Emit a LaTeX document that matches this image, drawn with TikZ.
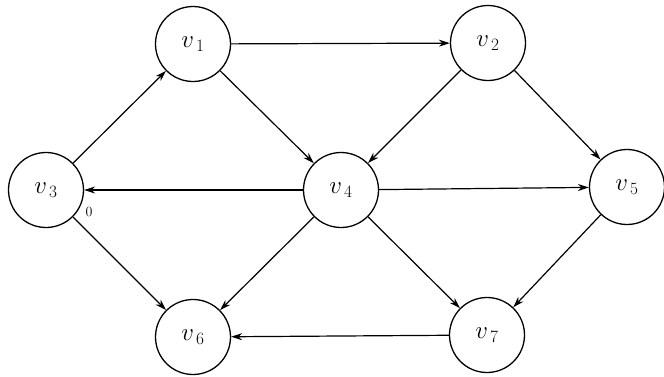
\documentclass[tikz,border=0pt]{standalone}
\usetikzlibrary{arrows.meta}
\begin{document}
\begin{tikzpicture}[x=1pt,y=-1pt,
  vert/.style={circle,draw,line width=1.3pt,minimum size=75pt,inner sep=0pt,font=\fontsize{24}{28}\selectfont},
  edge/.style={line width=1.2pt,-{Stealth[length=11pt,width=7pt]}},
  lbl/.style={font=\fontsize{14}{16}\selectfont,inner sep=0pt}]
\useasboundingbox (0,0) rectangle (664,376);
\node[vert] (v1) at (193,44) {$v_{\,1}$};
\node[vert] (v2) at (488,43) {$v_{\,2}$};
\node[vert] (v3) at (46,190) {$v_{\,3}$};
\node[vert] (v4) at (341,190) {$v_{\,4}$};
\node[vert] (v5) at (627,187) {$v_{\,5}$};
\node[vert] (v6) at (193,337) {$v_{\,6}$};
\node[vert] (v7) at (487,335) {$v_{\,7}$};
\node[lbl] (z) at (89,212) {0};
\draw[edge] (v3) -- (v1);
\draw[edge] (v1) -- (v2);
\draw[edge] (v1) -- (v4);
\draw[edge] (v2) -- (v4);
\draw[edge] (v2) -- (v5);
\draw[edge] (v4) -- (v3);
\draw[edge] (v4) -- (v5);
\draw[edge] (v4) -- (v6);
\draw[edge] (v4) -- (v7);
\draw[edge] (v3) -- (v6);
\draw[edge] (v5) -- (v7);
\draw[edge] (v7) -- (v6);
\end{tikzpicture}
\end{document}
